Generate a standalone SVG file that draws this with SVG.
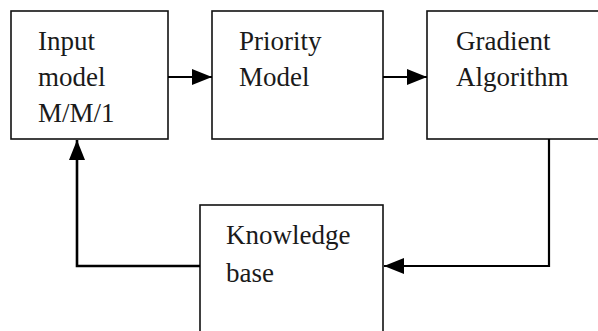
<svg xmlns="http://www.w3.org/2000/svg" width="598" height="331" viewBox="0 0 598 331">
<defs>
<style>
.box{fill:#fff;stroke:#111;stroke-width:1.6}
.t{font-family:"Liberation Serif","Times New Roman",serif;font-size:27px;fill:#1a1a1a}
.c{fill:none;stroke:#000;stroke-width:2.2}
</style>
<marker id="ah" markerUnits="userSpaceOnUse" markerWidth="20" markerHeight="16" refX="20" refY="8" orient="auto" viewBox="0 0 20 16">
<path d="M0,0 L20,8 L0,16 z" fill="#000"/>
</marker>
</defs>
<rect width="598" height="331" fill="#fff"/>
<g id="input-model">
<rect class="box" x="11" y="11" width="157" height="128"/>
<text class="t" x="38" y="50">Input</text>
<text class="t" x="38" y="86">model</text>
<text class="t" x="38" y="122">M/M/1</text>
</g>
<g id="priority-model">
<rect class="box" x="212" y="11" width="171" height="128"/>
<text class="t" x="239" y="50">Priority</text>
<text class="t" x="239" y="86">Model</text>
</g>
<g id="gradient-algorithm">
<rect class="box" x="427" y="11" width="180" height="128"/>
<text class="t" x="456" y="50">Gradient</text>
<text class="t" x="456" y="86">Algorithm</text>
</g>
<g id="knowledge-base">
<rect class="box" x="200" y="205" width="183" height="135"/>
<text class="t" x="226" y="244">Knowledge</text>
<text class="t" x="226" y="282">base</text>
</g>
<g id="connectors">
<line class="c" x1="168" y1="77" x2="212" y2="77" marker-end="url(#ah)"/>
<line class="c" x1="383" y1="77" x2="427" y2="77" marker-end="url(#ah)"/>
<polyline class="c" points="549,139 549,266 384,266" marker-end="url(#ah)"/>
<polyline class="c" points="200,266 77,266 77,140" marker-end="url(#ah)" style="stroke-width:2.6"/>
</g>
</svg>
